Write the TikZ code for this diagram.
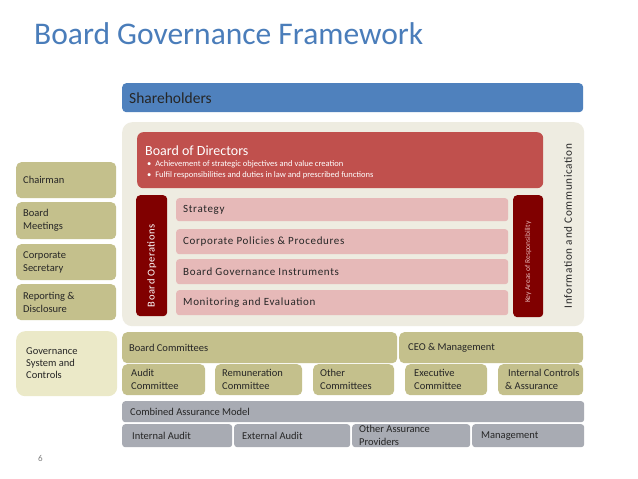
\documentclass[tikz,border=0pt]{standalone}
\usepackage{fontspec}
\setmainfont{Carlito}
\newfontfamily\spc[LetterSpace=6]{Carlito}
\definecolor{titleblue}{HTML}{4A7DBA}
\definecolor{shareblue}{HTML}{4F81BD}
\definecolor{beige}{HTML}{EEECE1}
\definecolor{bodred}{HTML}{C0504D}
\definecolor{darkred}{HTML}{800000}
\definecolor{pinkrow}{HTML}{E6B9B8}
\definecolor{olive}{HTML}{C4C08C}
\definecolor{lightolive}{HTML}{EBE9C8}
\definecolor{greybox}{HTML}{A8ABB3}
\definecolor{darktxt}{HTML}{262626}
\newcommand\bx[8]{%
  \node[#6,minimum width=#4pt,minimum height=#5pt,anchor=north west,inner sep=0pt] (#1) at (#2,#3) {};
  \node[#7,anchor=west,align=left,inner sep=0pt] (#1t) at ([xshift=7pt]#1.west) {#8};}
\tikzset{
  olivebox/.style={fill=olive,rounded corners=5pt},
  lightbox/.style={fill=lightolive,rounded corners=9pt},
  pinkbox/.style={fill=pinkrow,rounded corners=3pt},
  greyb/.style={fill=greybox,rounded corners=3pt},
  darkbox/.style={fill=darkred,rounded corners=4pt},
  lefttxt/.style={font=\fontsize{10.5}{13}\selectfont,text=darktxt},
  smalltxt/.style={font=\fontsize{10.5}{13}\selectfont,text=darktxt},
  rowtxt/.style={font=\spc\fontsize{11}{13}\selectfont,text=darktxt},
  bullettxt/.style={anchor=base west,inner sep=0pt,text=white,font=\fontsize{8.5}{10}\selectfont},
}
\begin{document}
\begin{tikzpicture}[x=1pt,y=-1pt]
\useasboundingbox[fill=white] (0,0) rectangle (638,479);
% title
\node[anchor=base west,inner sep=0pt,text=titleblue,font=\fontsize{31.5}{36}\selectfont] (title) at (34,45) {Board Governance Framework};
% shareholders
\bx{share}{122}{83}{461}{29}{fill=shareblue,rounded corners=4pt}{font=\fontsize{15.5}{18}\selectfont,text=darktxt}{Shareholders}
% beige background
\node[fill=beige,rounded corners=10pt,minimum width=462pt,minimum height=204pt,anchor=north west,inner sep=0pt] (bg) at (122,122) {};
% board of directors
\node[fill=bodred,rounded corners=6pt,minimum width=406pt,minimum height=56pt,anchor=north west,inner sep=0pt] (bod) at (137,132) {};
\node[anchor=base west,inner sep=0pt,text=white,font=\fontsize{14}{16}\selectfont] (bodt) at (145,155) {Board of Directors};
\node[bullettxt] (bodb1) at (147,166) {\textbullet\ \ Achievement of strategic objectives and value creation};
\node[bullettxt] (bodb2) at (147,177) {\textbullet\ \ Fulfil responsibilities and duties in law and prescribed functions};
% board operations
\node[darkbox,minimum width=31pt,minimum height=121pt,anchor=north west,inner sep=0pt] (ops) at (136,195) {};
\node[rotate=90,text=white,font=\spc\fontsize{10.5}{12}\selectfont,inner sep=0pt] (opst) at ([yshift=-10pt]ops.center) {Board Operations};
% rows
\bx{strat}{176}{198}{332}{23}{pinkbox}{rowtxt}{Strategy}
\bx{pol}{176}{229}{332}{25}{pinkbox}{rowtxt}{Corporate Policies \& Procedures}
\bx{inst}{176}{259}{332}{25}{pinkbox}{rowtxt}{Board Governance Instruments}
\bx{mon}{176}{290}{332}{25}{pinkbox}{rowtxt}{Monitoring and Evaluation}
% key areas
\node[darkbox,minimum width=30pt,minimum height=122pt,anchor=north west,inner sep=0pt] (key) at (513,195) {};
\node[rotate=90,text=pinkrow,font=\fontsize{7.5}{9}\selectfont,inner sep=0pt] (keyt) at ([yshift=-6pt]key.center) {Key Areas of Responsibility};
% info and communication
\node[rotate=90,text=darktxt,font=\spc\fontsize{11.2}{13}\selectfont,inner sep=0pt] (info) at (568,226) {Information and Communication};
% left column
\bx{chair}{16}{162}{100}{36}{olivebox}{lefttxt}{Chairman}
\bx{meet}{16}{202}{100}{37}{olivebox}{lefttxt}{Board\\Meetings}
\bx{sec}{16}{244}{100}{36}{olivebox}{lefttxt}{Corporate\\Secretary}
\bx{rep}{16}{284}{100}{36}{olivebox}{lefttxt}{Reporting \&\\Disclosure}
\node[lightbox,minimum width=101pt,minimum height=65pt,anchor=north west,inner sep=0pt] (gov) at (16,331) {};
\node[font=\fontsize{10.5}{12}\selectfont,text=darktxt,anchor=north west,align=left,inner sep=0pt] (govt) at (26,347) {Governance\\System and\\Controls};
% committees
\bx{bc}{122}{332}{275}{31}{olivebox}{smalltxt}{Board Committees}
\bx{ceo}{399}{332}{184}{31}{olivebox}{smalltxt}{\hspace{2pt}CEO \& Management}
\bx{aud}{122}{364}{83}{31}{olivebox}{smalltxt}{\hspace{2pt}Audit\\\hspace{2pt}Committee}
\bx{rem}{215}{364}{87}{31}{olivebox}{smalltxt}{Remuneration\\Committee}
\bx{oth}{313}{364}{81}{31}{olivebox}{smalltxt}{Other\\Committees}
\bx{exe}{405}{364}{82}{31}{olivebox}{smalltxt}{\hspace{2pt}Executive\\\hspace{2pt}Committee}
\bx{ic}{498}{364}{85}{31}{olivebox}{smalltxt}{\hspace{3pt}Internal Controls\\\& Assurance}
% assurance
\bx{cam}{122}{401}{462}{21}{greyb}{smalltxt}{\hspace{1pt}Combined Assurance Model}
\bx{ia}{122}{424}{110}{23}{greyb}{smalltxt}{\hspace{3pt}Internal Audit}
\bx{ea}{234}{424}{116}{23}{greyb}{smalltxt}{\hspace{1pt}External Audit}
\bx{oap}{352}{424}{118}{23}{greyb}{smalltxt}{Other Assurance\\Providers}
\bx{mgt}{472}{424}{112}{23}{greyb}{smalltxt}{\hspace{2pt}Management}
% page number
\node[anchor=base west,inner sep=0pt,text=gray,font=\fontsize{9}{10}\selectfont] (pnum) at (38,461) {6};
\end{tikzpicture}
\end{document}
